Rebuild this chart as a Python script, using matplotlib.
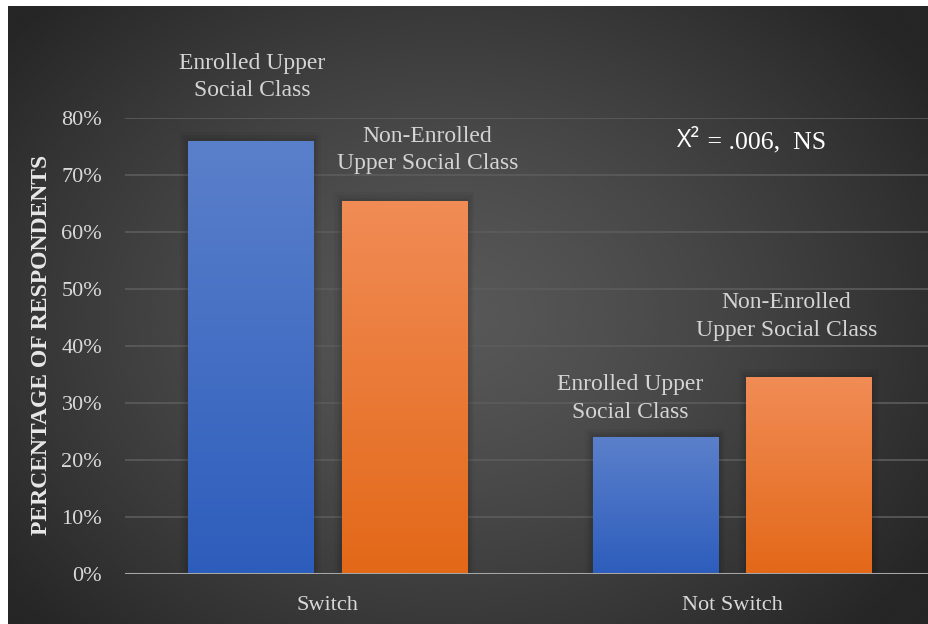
import numpy as np
import matplotlib
matplotlib.use("Agg")
import matplotlib.pyplot as plt
from matplotlib.colors import LinearSegmentedColormap

categories = ["Switch", "Not Switch"]
enrolled = [76.0, 24.0]
non_enrolled = [65.5, 34.5]
series_names = ["Enrolled Upper\nSocial Class", "Non-Enrolled\nUpper Social Class"]
y_ticks = [0, 10, 20, 30, 40, 50, 60, 70, 80]
y_tick_labels = [f"{v}%" for v in y_ticks]
y_title = "PERCENTAGE OF RESPONDENTS"

W, H = 929, 624
fig = plt.figure(figsize=(W / 100, H / 100), dpi=100, facecolor="white")

# dark radial backdrop
bg = fig.add_axes([8 / W, 0, (W - 8) / W, (H - 6) / H])
bg.set_axis_off()
ny, nx = 300, 450
yy, xx = np.mgrid[0:ny, 0:nx]
cx, cy = 0.48 * nx, 0.50 * ny
d = np.sqrt(((xx - cx) / (0.62 * nx)) ** 2 + ((yy - cy) / (0.72 * ny)) ** 2)
d = np.clip(d, 0, 1)
light, dark = 0.345, 0.150
img = light - (light - dark) * d ** 1.3
bg.imshow(img, cmap="gray", vmin=0, vmax=1, aspect="auto",
          extent=[0, 1, 0, 1], interpolation="bicubic")
bg.set_xlim(0, 1)
bg.set_ylim(0, 1)

# plot area
ax = fig.add_axes([125 / W, 50 / H, (W - 125) / W, (574 - 118) / H])
ax.set_facecolor("none")
for s in ax.spines.values():
    s.set_visible(False)

x = np.arange(len(categories))
width = 0.31
offset = 0.19
ax.set_xlim(-0.5, 1.486)
ax.set_ylim(0, 80)

serif = ["Liberation Serif", "DejaVu Serif"]

ax.set_yticks(y_ticks)
ax.set_yticklabels(y_tick_labels, fontsize=16, color="#d9d9d9", family=serif)
ax.set_xticks(x)
ax.set_xticklabels(categories, fontsize=16, color="#d9d9d9", family=serif)
ax.tick_params(axis="both", length=0)
ax.tick_params(axis="y", pad=16.5)
ax.tick_params(axis="x", pad=15.5)
ax.grid(axis="y", color="#5c5c5c", linewidth=1.2)
ax.set_axisbelow(True)
ax.axhline(0, color="#a6a6a6", linewidth=2.2, zorder=4)

blue_cmap = LinearSegmentedColormap.from_list("b", ["#2d5dbc", "#5b80cb"])
orange_cmap = LinearSegmentedColormap.from_list("o", ["#e36818", "#f18c56"])
grad = np.linspace(0, 1, 256).reshape(-1, 1)


def gradient_bars(xpos, vals, cmap):
    bars = ax.bar(xpos, vals, width, color="none", edgecolor="none", zorder=3)
    for b in bars:
        x0, y0 = b.get_x(), b.get_y()
        w, h = b.get_width(), b.get_height()
        # soft shadow
        for k, a in enumerate([0.06, 0.05, 0.04]):
            pad = 0.006 * (k + 1)
            ax.add_patch(plt.Rectangle((x0 - pad, y0), w + 2 * pad, h + 0.5 * (k + 1),
                                       facecolor="black", alpha=a, edgecolor="none", zorder=2.5))
        im = ax.imshow(grad, cmap=cmap, aspect="auto", origin="lower",
                       extent=[x0, x0 + w, y0, y0 + h], zorder=3)
        im.set_clip_path(b)
    return bars


bars_e = gradient_bars(x - offset, enrolled, blue_cmap)
bars_n = gradient_bars(x + offset, non_enrolled, orange_cmap)

label_style = dict(fontsize=17, color="#d4d4d4", family=serif, ha="center",
                   va="center", linespacing=1.42, annotation_clip=False,
                   textcoords="offset points")
# series labels above the bars
ax.annotate(series_names[0], xy=(x[0] - offset, enrolled[0]), xytext=(1.5, 46), **label_style)
ax.annotate(series_names[1], xy=(x[0] + offset, non_enrolled[0]), xytext=(16.5, 36.5), **label_style)
ax.annotate(series_names[1], xy=(x[1] + offset, non_enrolled[1]), xytext=(-16.5, 44), **label_style)
ax.annotate(series_names[0], xy=(x[1] - offset, enrolled[1]), xytext=(-18, 28), **label_style)

# chi-square note
t1 = ax.text(0.687, 74.9, "X²", fontsize=18, color="white",
             family=["Open Sans", "DejaVu Sans"], ha="left", va="baseline",
             transform=ax.get_yaxis_transform())
ax.annotate(" = .006,  NS", xy=(1, 0), xycoords=t1, fontsize=18.5, color="white",
            family=serif, ha="left", va="bottom")

fig.text(42 / W, 1 - 345 / H, y_title, rotation=90, fontsize=17, fontweight="bold",
         color="#e8e8e8", family=serif, ha="center", va="center")

fig.savefig("out.png", dpi=100, facecolor="white")
